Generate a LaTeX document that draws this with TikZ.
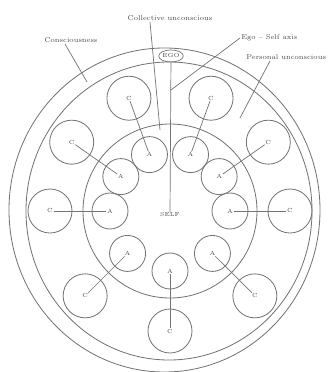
\documentclass[tikz,border=0pt]{standalone}
\usepackage{tikz}
\usetikzlibrary{positioning,shapes.geometric}

\begin{document}
\begin{tikzpicture}[x=0.03cm,y=0.03cm,
ring/.style={draw=black!55,line width=.7pt},
acirc/.style={circle,draw=black!55,line width=.7pt,minimum size=1.08cm,inner sep=0pt},
ccirc/.style={circle,draw=black!55,line width=.7pt,minimum size=1.32cm,inner sep=0pt},
letter/.style={font=\tiny,text=black!70,inner sep=.5pt},
lbl/.style={font=\fontsize{6}{7}\selectfont,text=black!70,inner sep=1pt},
lead/.style={draw=black!55,line width=.6pt}]
\useasboundingbox (-170,-161) rectangle (160,211);
\draw[ring] (-5.5,1) ellipse [x radius=155.5,y radius=162];
\draw[ring] (-1,0) ellipse [x radius=143,y radius=149];
\draw[ring] (0,0) circle [radius=87];
\foreach \ang [count=\i] in {0,35,70,110,145,180,225,270,315}{
  \node[acirc] (a\i) at (\ang:60) {};
  \node[ccirc] (c\i) at (\ang:120) {};
  \node[letter] (al\i) at (a\i) {A};
  \node[letter] (cl\i) at (c\i) {C};
  \draw[lead] (cl\i) -- (al\i);
}
\node[ellipse,draw=black!55,line width=.6pt,minimum width=.63cm,minimum height=.36cm,inner sep=0pt,font=\tiny,text=black!70] (ego) at (1,155) {EGO};
\node[letter] (self) at (0,-4) {SELF};
\draw[lead] (ego) -- (self);
\node[lbl] (coll) at (0,193) {Collective unconscious};
\node[lbl] (cons) at (-99,171) {Consciousness};
\node[lbl,anchor=west] (axis) at (70,173) {Ego -- Self axis};
\node[lbl,anchor=west] (pers) at (75,154) {Personal unconscious};
\coordinate (coll-end) at (-10,81);
\coordinate (cons-end) at (-83,129);
\coordinate (axis-end) at (1,121);
\coordinate (pers-end) at (70,93);
\draw[lead] ([xshift=-.6cm]coll.south) -- (coll-end);
\draw[lead] ([xshift=-.18cm]cons.south) -- (cons-end);
\draw[lead] (axis.west) -- (axis-end);
\draw[lead] ([xshift=.75cm]pers.south west) -- (pers-end);
\end{tikzpicture}
\end{document}
